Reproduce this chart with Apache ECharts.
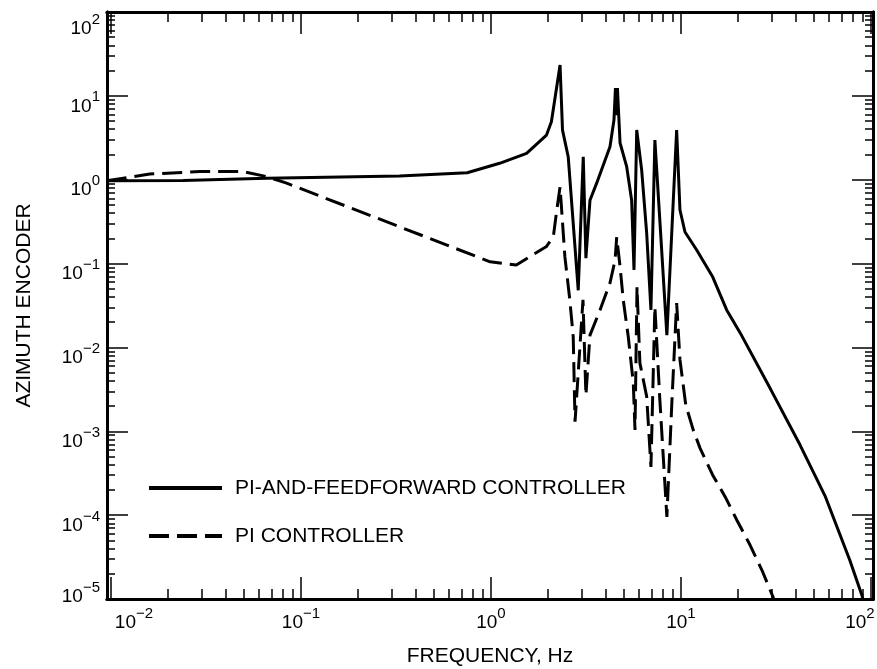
<!DOCTYPE html>
<html><head><meta charset="utf-8">
<script src="https://cdn.jsdelivr.net/npm/echarts@6/dist/echarts.min.js"></script>
<style>html,body{margin:0;padding:0;background:#fff}#c{width:877px;height:669px}</style>
</head><body><div id="c"></div>
<script>
// ---- data ----
const seriesNames = ['PI-AND-FEEDFORWARD CONTROLLER', 'PI CONTROLLER'];
const ffFreq = [0.0095, 0.024, 0.066, 0.33, 0.75, 1.11, 1.54, 1.96, 2.08, 2.31, 2.38, 2.55, 2.88, 3.06, 3.16, 3.32, 3.6, 4.23, 4.44, 4.52, 4.58, 4.63, 4.78, 5.18, 5.5, 5.66, 5.85, 6.21, 6.6, 6.95, 7.29, 7.74, 8.43, 9.49, 9.88, 10.5, 12.1, 14.7, 17.4, 20.5, 29.8, 42.3, 57.3, 77.4, 89.7, 95];
const ffAmp = [0.97, 0.98, 1.04, 1.11, 1.21, 1.57, 2.06, 3.41, 4.9, 23.3, 3.9, 1.88, 0.048, 1.88, 0.116, 0.57, 0.91, 2.47, 5.15, 12.4, 5.9, 12.4, 2.74, 1.43, 0.57, 0.084, 3.92, 1.31, 0.23, 0.028, 2.97, 0.33, 0.014, 3.92, 0.435, 0.238, 0.145, 0.069, 0.028, 0.0149, 0.0031, 6.9e-4, 1.7e-4, 2.9e-5, 1.1e-5, 6e-6];
const piFreq = [0.0095, 0.016, 0.0294, 0.0497, 0.066, 0.084, 0.99, 1.36, 1.96, 2.13, 2.22, 2.31, 2.45, 2.6, 2.71, 2.77, 3.05, 3.16, 3.32, 3.75, 4.23, 4.5, 4.59, 4.78, 4.97, 5.28, 5.61, 5.73, 5.87, 6.08, 6.6, 6.95, 7.29, 7.74, 8.43, 8.97, 9.49, 9.88, 10.6, 11.6, 12.6, 14.7, 17.1, 19.7, 23.1, 26.7, 30.5, 33];
const piAmp = [0.97, 1.17, 1.25, 1.25, 1.09, 0.91, 0.105, 0.096, 0.16, 0.21, 0.435, 0.82, 0.12, 0.037, 0.0133, 0.0013, 0.037, 0.0027, 0.014, 0.0279, 0.0586, 0.11, 0.207, 0.092, 0.0367, 0.0134, 0.0038, 0.00104, 0.0525, 0.0065, 0.0026, 3.75e-4, 0.0306, 0.0024, 9.5e-5, 0.0024, 0.0338, 0.0071, 0.00206, 0.00104, 6.3e-4, 3e-4, 1.65e-4, 8.7e-5, 4.4e-5, 2.2e-5, 1.06e-5, 6e-6];
const xMajorTicks = [0.01, 0.1, 1, 10, 100];
const yMajorTicks = [1e-5, 1e-4, 1e-3, 1e-2, 1e-1, 1, 10, 100];
const xRange = [0.00953, 102.5];
const yRange = [1e-5, 100];
const xTitle = 'FREQUENCY, Hz';
const yTitle = 'AZIMUTH ENCODER';

function minorTicks(lo, hi) {
  const out = [];
  for (let d = Math.floor(Math.log10(lo)); d <= Math.ceil(Math.log10(hi)); d++) {
    for (let m = 2; m <= 9; m++) {
      const v = m * Math.pow(10, d);
      if (v >= lo && v <= hi) out.push(v);
    }
  }
  return out;
}
const FONT = '"Liberation Sans", Arial, Helvetica, sans-serif';
const expOf = v => { const e = Math.round(Math.log10(v)); return e < 0 ? '\u2212' + (-e) : String(e); };
const rich = {
  b: { fontSize: 19, lineHeight: 26, verticalAlign: 'bottom', color: '#000', fontFamily: FONT },
  s: { fontSize: 15, lineHeight: 10, verticalAlign: 'top', color: '#000', fontFamily: FONT },
  g: { fontSize: 10, lineHeight: 14 },
  g2: { fontSize: 10, lineHeight: 26 },
  g3: { fontSize: 10, lineHeight: 11 },
  sp: { width: 46, lineHeight: 10 },
  sr: { width: 22, lineHeight: 10 }
};
const axisLine = { show: true, onZero: false, lineStyle: { color: '#000', width: 3 } };
function xLabel(v) {
  const e = Math.round(Math.log10(v));
  const core = '{b|10}{s|' + expOf(v) + '}';
  if (e === -2) return '{sp| }' + core;
  if (e === 2) return core + '{sr| }';
  return core;
}
function yLabel(v) {
  const e = Math.round(Math.log10(v));
  const core = '{b|10}{s|' + expOf(v) + '}';
  if (e === 2) return '{g2| }\n' + core;
  if (e === -5) return core + '\n{g3| }';
  return '{g| }\n' + core;
}
function mkX(pos, major, withLabel) {
  return {
    type: 'log', gridIndex: 0, position: pos, min: xRange[0], max: xRange[1], logBase: 10,
    axisLine: axisLine,
    splitLine: { show: false },
    axisTick: { show: true, inside: true, length: major ? 22 : 10, customValues: major ? xMajorTicks : minorTicks(xRange[0], xRange[1]), lineStyle: { color: '#000', width: 1.5 } },
    axisLabel: withLabel ? { show: true, customValues: xMajorTicks, margin: 7, rich: rich, formatter: xLabel } : { show: false },
    name: withLabel ? xTitle : '', nameLocation: 'middle', nameGap: 47,
    nameTextStyle: { fontSize: 21, color: '#000', fontFamily: FONT }
  };
}
function mkY(pos, major, withLabel) {
  return {
    type: 'log', gridIndex: 0, position: pos, min: yRange[0], max: yRange[1], logBase: 10,
    axisLine: axisLine,
    splitLine: { show: false },
    axisTick: { show: true, inside: true, length: major ? 21 : 8, customValues: major ? yMajorTicks : minorTicks(yRange[0], yRange[1]), lineStyle: { color: '#000', width: 1.5 } },
    axisLabel: withLabel ? { show: true, customValues: yMajorTicks, margin: 7, rich: rich, formatter: yLabel } : { show: false },
    name: withLabel ? yTitle : '', nameLocation: 'middle', nameGap: 72, nameRotate: 90,
    nameTextStyle: { fontSize: 21, color: '#000', fontFamily: FONT }
  };
}
const chart = echarts.init(document.getElementById('c'), null, { renderer: 'canvas' });
chart.setOption({
  animation: false,
  backgroundColor: '#fff',
  grid: { left: 107, right: 4, top: 12, bottom: 70, containLabel: false, outerBoundsMode: 'none' },
  xAxis: [mkX('bottom', true, true), mkX('bottom', false, false), mkX('top', true, false), mkX('top', false, false)],
  yAxis: [mkY('left', true, true), mkY('left', false, false), mkY('right', true, false), mkY('right', false, false)],
  legend: {
    data: seriesNames, orient: 'vertical', left: 147, top: 476, padding: 0,
    itemWidth: 73, itemHeight: 14, itemGap: 24,
    itemStyle: { color: 'transparent', borderColor: 'transparent', borderWidth: 0, opacity: 0 },
    lineStyle: { width: 4, color: '#000' },
    textStyle: { fontSize: 21, color: '#000', fontFamily: FONT, lineHeight: 24, padding: [0, 0, 0, 8] },
    selectedMode: false
  },
  series: [
    { name: seriesNames[0], type: 'line', xAxisIndex: 0, yAxisIndex: 0, symbol: 'none', showSymbol: false,
      lineStyle: { color: '#000', width: 3, type: 'solid' }, itemStyle: { color: '#000' },
      data: ffFreq.map((f, i) => [f, ffAmp[i]]) },
    { name: seriesNames[1], type: 'line', xAxisIndex: 0, yAxisIndex: 0, symbol: 'none', showSymbol: false,
      lineStyle: { color: '#000', width: 3, type: [20, 8] }, itemStyle: { color: '#000' },
      data: piFreq.map((f, i) => [f, piAmp[i]]) }
  ]
});
</script></body></html>
